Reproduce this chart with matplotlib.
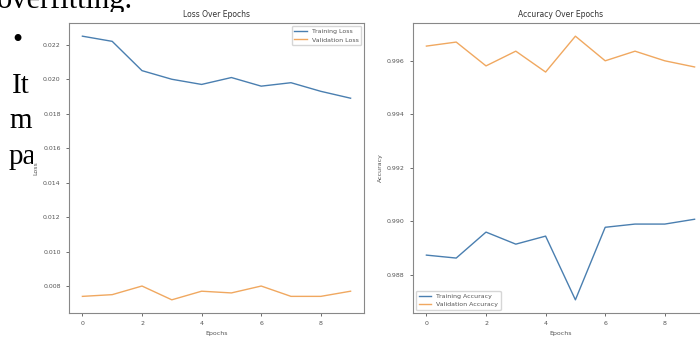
import matplotlib
matplotlib.use("Agg")
import matplotlib.pyplot as plt
from matplotlib.patches import Rectangle

epochs = list(range(10))
train_loss = [0.0225, 0.0222, 0.0205, 0.0200, 0.0197, 0.0201, 0.0196, 0.0198, 0.0193, 0.0189]
val_loss = [0.0074, 0.0075, 0.0080, 0.0072, 0.0077, 0.0076, 0.0080, 0.0074, 0.0074, 0.0077]
train_acc = [0.98874, 0.98863, 0.98960, 0.98915, 0.98945, 0.98707, 0.98978, 0.98990, 0.98990, 0.99008]
val_acc = [0.99655, 0.99670, 0.99581, 0.99636, 0.99558, 0.99692, 0.99600, 0.99636, 0.99600, 0.99577]

W, H = 700, 340
fig = plt.figure(figsize=(7, 3.4), dpi=100)

# background document text partially hidden behind the chart
serif = ["Liberation Serif", "DejaVu Serif"]
doc = [("overfitting.", -3, 8, 22), ("\u2022", 12, 48, 21), ("It", 12, 93, 21),
       ("m", 9, 128, 21), ("pa", 9, 164, 21)]
for s, x, y, fs in doc:
    fig.text(x / W, 1 - y / H, s, family=serif, fontsize=fs, color="black",
             ha="left", va="baseline", zorder=-3)
fig.patches.append(Rectangle((33 / W, 0), 1, 1 - 12 / H, transform=fig.transFigure,
                             facecolor="white", edgecolor="none", zorder=-2))

tc = "#555555"
fs_tick = 4.5
ax1 = fig.add_axes([69 / W, 1 - 313 / H, 295 / W, 290 / H])
ax2 = fig.add_axes([413 / W, 1 - 313 / H, 295 / W, 290 / H])
for ax in (ax1, ax2):
    ax.patch.set_alpha(0)
    for sp in ax.spines.values():
        sp.set_color("#888888")
        sp.set_linewidth(0.8)
    ax.tick_params(labelsize=fs_tick, colors=tc, length=2.5, width=0.6)

ax1.plot(epochs, train_loss, color="#4a7fb0", lw=1.0, label="Training Loss")
ax1.plot(epochs, val_loss, color="#f0a860", lw=1.0, label="Validation Loss")
ax1.set_title("Loss Over Epochs", fontsize=5.5, color="#333333", pad=4)
ax1.set_xlabel("Epochs", fontsize=4.5, color=tc, labelpad=3)
ax1.set_ylabel("Loss", fontsize=4.5, color=tc, labelpad=3)
ax1.legend(loc="upper right", fontsize=4.5, frameon=True, labelcolor=tc)

ax2.plot(epochs, train_acc, color="#4a7fb0", lw=1.0, label="Training Accuracy")
ax2.plot(epochs, val_acc, color="#f0a860", lw=1.0, label="Validation Accuracy")
ax2.set_title("Accuracy Over Epochs", fontsize=5.5, color="#333333", pad=4)
ax2.set_xlabel("Epochs", fontsize=4.5, color=tc, labelpad=3)
ax2.set_ylabel("Accuracy", fontsize=4.5, color=tc, labelpad=3)
ax2.legend(loc="lower left", fontsize=4.5, frameon=True, labelcolor=tc)

fig.savefig("out.png", dpi=100)
